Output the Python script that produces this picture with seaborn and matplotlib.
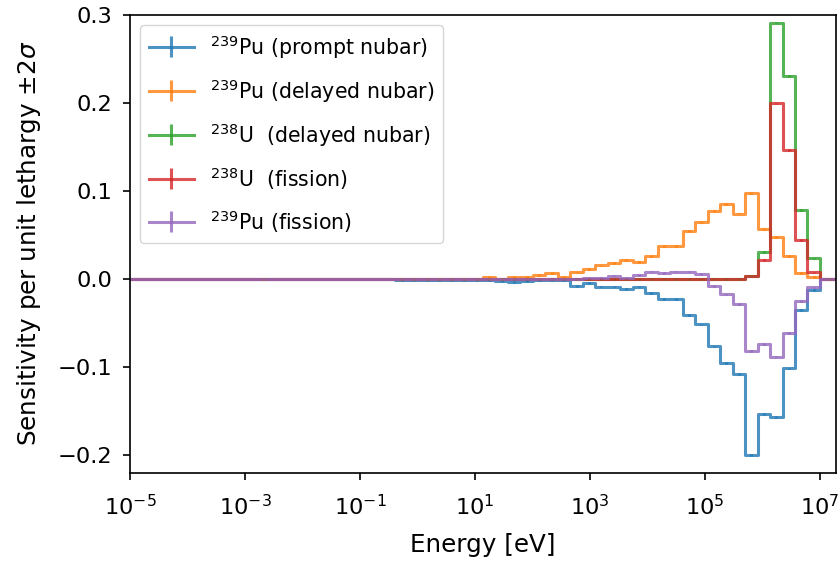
import numpy as np
import pandas as pd
import matplotlib
matplotlib.use("Agg")
import matplotlib.pyplot as plt
from matplotlib.ticker import NullLocator
import seaborn as sns

# Energy group edges [eV]
edges = [1e-5, 0.4140, 0.6826, 1.125, 1.855, 3.059, 5.043, 8.315, 13.71, 22.60,
         37.27, 61.44, 101.3, 167.0, 275.4, 454.0, 748.5, 1234.0, 2035.0, 3355.0,
         5531.0, 9119.0, 1.503e4, 2.479e4, 4.087e4, 6.738e4, 1.111e5, 1.832e5,
         3.020e5, 4.979e5, 8.210e5, 1.353e6, 2.231e6, 3.679e6, 6.065e6, 1.0e7, 2.0e7]

labels = ["$^{239}$Pu (prompt nubar)", "$^{239}$Pu (delayed nubar)",
          "$^{238}$U  (delayed nubar)", "$^{238}$U  (fission)", "$^{239}$Pu (fission)"]

x_ticks = [1e-5, 1e-3, 1e-1, 1e1, 1e3, 1e5, 1e7]
y_ticks = [-0.2, -0.1, 0.0, 0.1, 0.2, 0.3]

pu239_prompt_nubar = [0.0,
    -0.002, -0.002, -0.002, -0.002, -0.002, -0.002, -0.002, -0.002, -0.003, -0.004,
    -0.003, -0.002, -0.002, -0.002, -0.008, -0.005, -0.009, -0.009, -0.012, -0.009,
    -0.016, -0.023, -0.023, -0.041, -0.052, -0.077, -0.096, -0.108, -0.200, -0.154,
    -0.157, -0.102, -0.036, -0.013,
    0.0]
pu239_delayed_nubar = [0.0,
    0.0, 0.0, 0.0, 0.0, 0.0, 0.0, 0.0, 0.002, 0.0, 0.002,
    0.002, 0.004, 0.006, 0.002, 0.007, 0.011, 0.015, 0.018, 0.0215, 0.019,
    0.026, 0.037, 0.037, 0.054, 0.064, 0.077, 0.085, 0.074, 0.097, 0.056,
    0.047, 0.026, 0.006, 0.002,
    0.0]
u238_delayed_nubar = [0.0,
    0.0, 0.0, 0.0, 0.0, 0.0, 0.0, 0.0, 0.0, 0.0, 0.0,
    0.0, 0.0, 0.0, 0.0, 0.0, 0.0, 0.0, 0.0, 0.0, 0.0,
    0.0, 0.0, 0.0, 0.0, 0.0, 0.0, 0.0, 0.0, 0.0035, 0.030,
    0.291, 0.230, 0.078, 0.023,
    0.0]
u238_fission = [0.0,
    0.0, 0.0, 0.0, 0.0, 0.0, 0.0, 0.0, 0.0, 0.0, 0.0,
    0.0, 0.0, 0.0, 0.0, 0.0, 0.0, 0.0, 0.0, 0.0, 0.0,
    0.0, 0.0, 0.0, 0.0, 0.0, 0.0, 0.0, 0.0, 0.0035, 0.021,
    0.199, 0.146, 0.044, 0.007,
    0.0]
pu239_fission = [0.0,
    0.0, 0.0, 0.0, 0.0, 0.0, 0.0, 0.0, 0.0, 0.0, 0.0,
    0.0, 0.0, 0.0, 0.0, 0.0, 0.001, 0.001, 0.0035, 0.001, 0.004,
    0.008, 0.006, 0.008, 0.008, 0.005, -0.008, -0.018, -0.029, -0.082, -0.074,
    -0.0885, -0.062, -0.025, -0.010,
    0.0]

two_sigma = [0.001, 0.001, 0.001, 0.001, 0.001]

series = [pu239_prompt_nubar, pu239_delayed_nubar, u238_delayed_nubar, u238_fission, pu239_fission]
colors = sns.color_palette("tab10", 5)

plt.rcParams["font.family"] = ["DejaVu Sans"]
plt.rcParams["font.size"] = 16.2
plt.rcParams["axes.linewidth"] = 1.2
plt.rcParams["xtick.major.width"] = 1.2
plt.rcParams["ytick.major.width"] = 1.2
plt.rcParams["xtick.major.size"] = 5
plt.rcParams["ytick.major.size"] = 5
plt.rcParams["xtick.major.pad"] = 10
plt.rcParams["ytick.major.pad"] = 8
plt.rcParams["xtick.labelsize"] = 16.2
plt.rcParams["ytick.labelsize"] = 16.2

rows = []
for lab, vals in zip(labels, series):
    ys = list(vals) + [vals[-1]]
    for e, v in zip(edges, ys):
        rows.append({"Energy": e, "S": v, "series": lab})
df = pd.DataFrame(rows)

fig = plt.figure(figsize=(8.4, 5.62), dpi=100)
ax = fig.add_axes([130 / 840, 1 - 472.7 / 562, 706 / 840, 458.1 / 562])

sns.lineplot(data=df, x="Energy", y="S", hue="series", hue_order=labels,
             palette=colors, drawstyle="steps-post", estimator=None, sort=False,
             legend=False, lw=2.2, alpha=0.8, ax=ax)

e = np.array(edges)
centers = np.sqrt(e[:-1] * e[1:])
handles = []
for lab, vals, c, s in zip(labels, series, colors, two_sigma):
    ax.errorbar(centers, vals, yerr=s, fmt="none", ecolor=c, elinewidth=2.2, alpha=0.8)
    h = ax.errorbar([np.nan], [np.nan], yerr=[0.01], color=c, lw=2.2, alpha=0.8, label=lab)
    handles.append(h)

ax.set_xscale("log")
ax.set_xticks(x_ticks)
ax.xaxis.set_minor_locator(NullLocator())
ax.set_xlim(1e-5, 1.9e7)
ax.set_ylim(-0.2205, 0.3)
ax.set_yticks(y_ticks)
ax.set_xlabel("Energy [eV]", fontsize=17.7, labelpad=10)
ax.set_ylabel("Sensitivity per unit lethargy $\\pm 2\\sigma$", fontsize=17.7, labelpad=10)
ax.legend(handles=handles, labels=labels, loc="upper left", fontsize=14.8,
          labelspacing=0.8, handlelength=2.2, handleheight=1.0)

fig.savefig("out.png", dpi=100)
